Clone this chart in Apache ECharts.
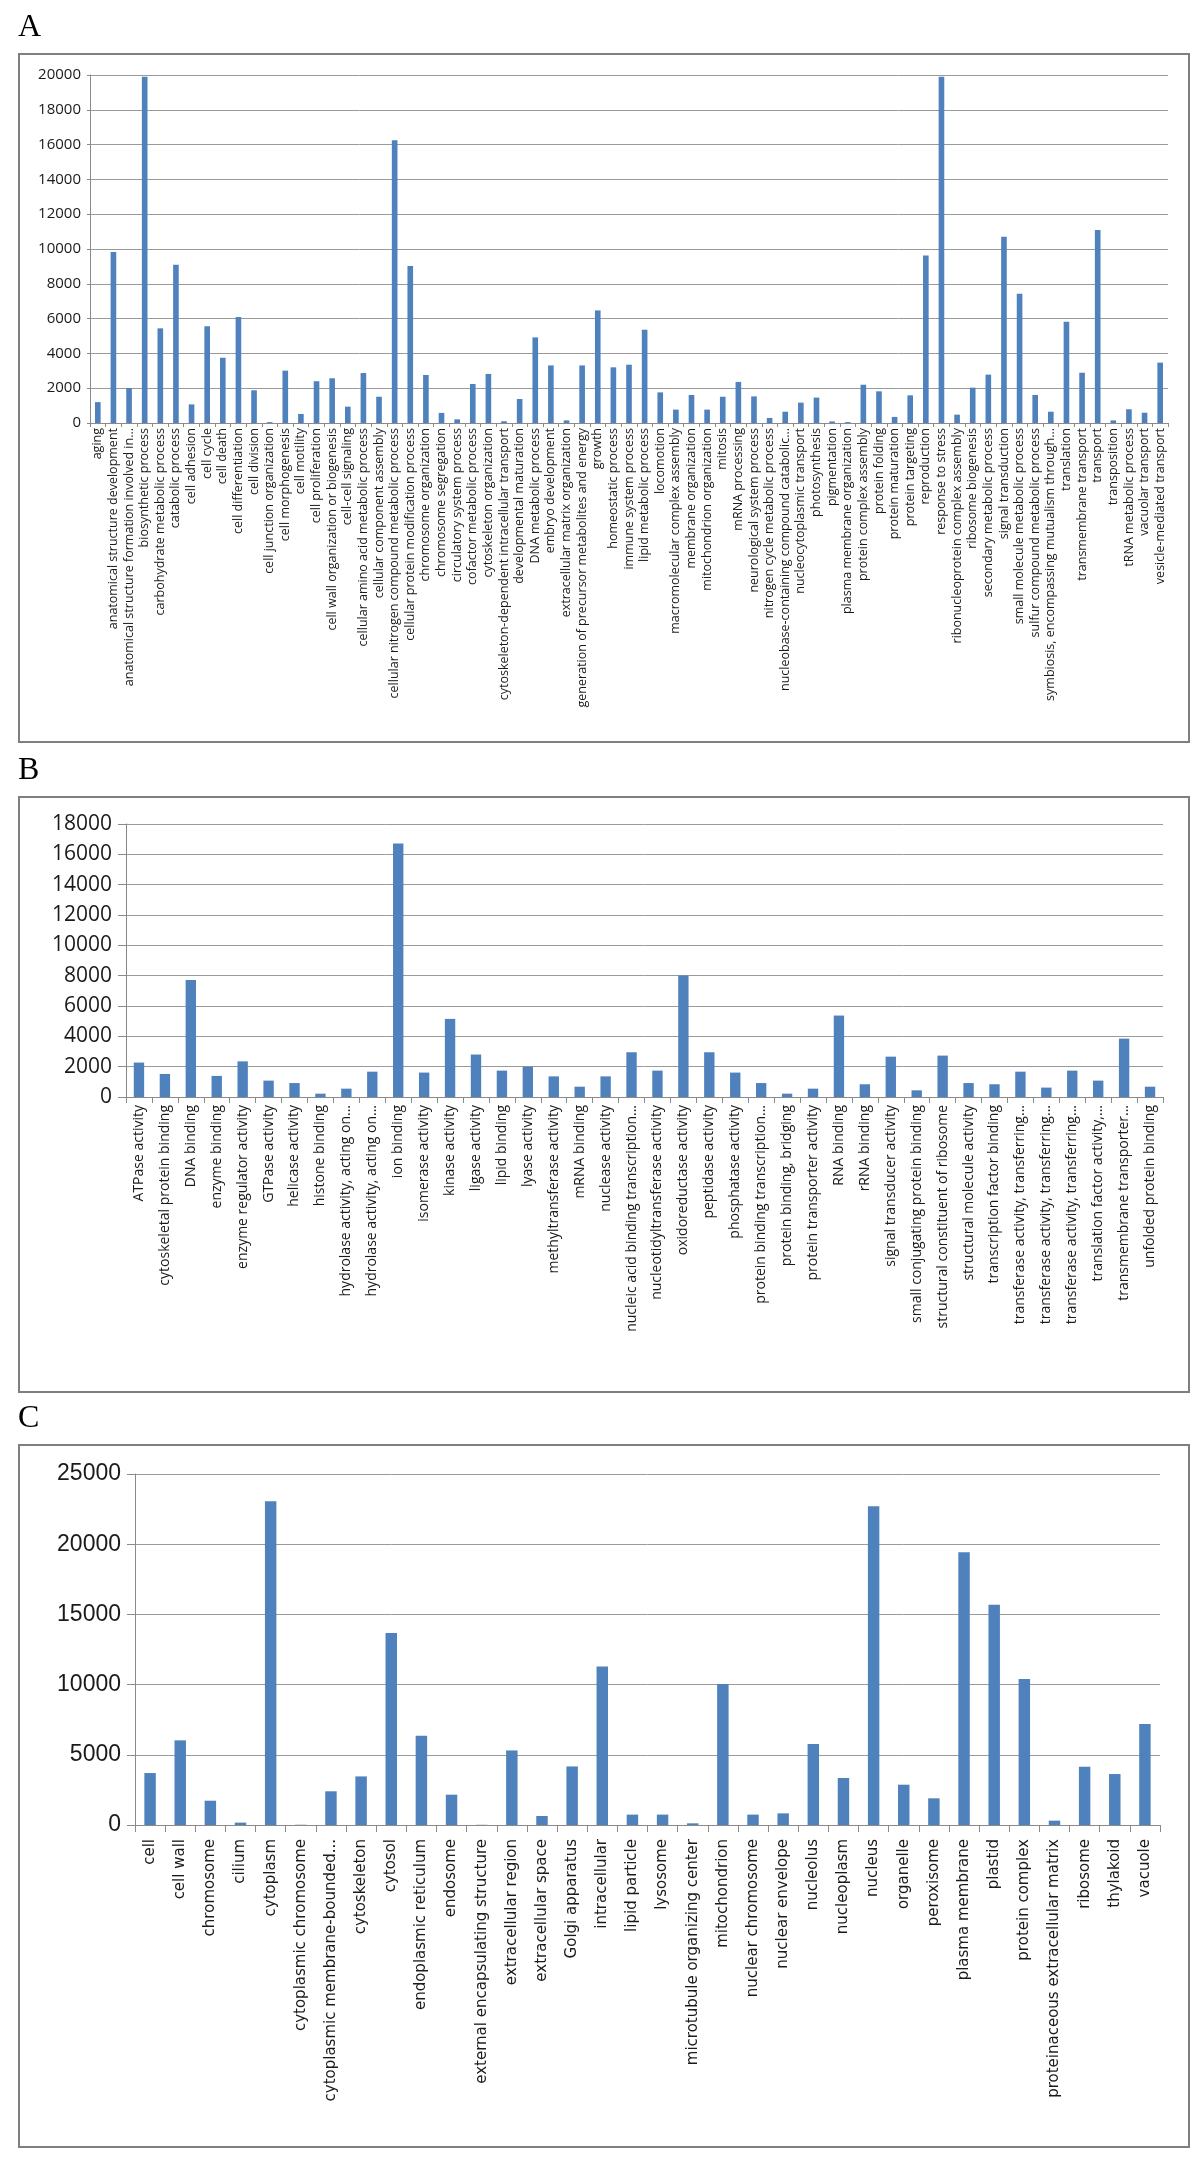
<!DOCTYPE html>
<html><head><meta charset="utf-8">
<script src="https://cdn.jsdelivr.net/npm/echarts@6/dist/echarts.min.js"></script>
<style>html,body{margin:0;padding:0;background:#fff}#c{width:1200px;height:2161px}</style>
</head><body><div id="c"></div>
<script>
const catsA = ["aging","anatomical structure development","anatomical structure formation involved in...","biosynthetic process","carbohydrate metabolic process","catabolic process","cell adhesion","cell cycle","cell death","cell differentiation","cell division","cell junction organization","cell morphogenesis","cell motility","cell proliferation","cell wall organization or biogenesis","cell-cell signaling","cellular amino acid metabolic process","cellular component assembly","cellular nitrogen compound metabolic process","cellular protein modification process","chromosome organization","chromosome segregation","circulatory system process","cofactor metabolic process","cytoskeleton organization","cytoskeleton-dependent intracellular transport","developmental maturation","DNA metabolic process","embryo development","extracellular matrix organization","generation of precursor metabolites and energy","growth","homeostatic process","immune system process","lipid metabolic process","locomotion","macromolecular complex assembly","membrane organization","mitochondrion organization","mitosis","mRNA processing","neurological system process","nitrogen cycle metabolic process","nucleobase-containing compound catabolic...","nucleocytoplasmic transport","photosynthesis","pigmentation","plasma membrane organization","protein complex assembly","protein folding","protein maturation","protein targeting","reproduction","response to stress","ribonucleoprotein complex assembly","ribosome biogenesis","secondary metabolic process","signal transduction","small molecule metabolic process","sulfur compound metabolic process","symbiosis, encompassing mutualism through...","translation","transmembrane transport","transport","transposition","tRNA metabolic process","vacuolar transport","vesicle-mediated transport"];
const valsA = [1200,9830,2010,19900,5440,9100,1070,5560,3750,6090,1880,50,3010,520,2400,2570,940,2870,1510,16250,9020,2760,580,210,2240,2820,100,1380,4920,3310,150,3310,6470,3200,3350,5360,1760,770,1610,770,1510,2360,1530,290,650,1170,1460,90,50,2200,1820,350,1590,9620,19900,480,2030,2780,10710,7430,1610,650,5820,2890,11090,150,790,590,3470];
const ticksA = {min:0, max:20000, interval:2000};

const catsB = ["ATPase activity","cytoskeletal protein binding","DNA binding","enzyme binding","enzyme regulator activity","GTPase activity","helicase activity","histone binding","hydrolase activity, acting on...","hydrolase activity, acting on...","ion binding","isomerase activity","kinase activity","ligase activity","lipid binding","lyase activity","methyltransferase activity","mRNA binding","nuclease activity","nucleic acid binding transcription...","nucleotidyltransferase activity","oxidoreductase activity","peptidase activity","phosphatase activity","protein binding transcription...","protein binding, bridging","protein transporter activity","RNA binding","rRNA binding","signal transducer activity","small conjugating protein binding","structural constituent of ribosome","structural molecule activity","transcription factor binding","transferase activity, transferring...","transferase activity, transferring...","transferase activity, transferring...","translation factor activity,...","transmembrane transporter...","unfolded protein binding"];
const valsB = [2270,1520,7720,1390,2350,1080,920,220,550,1670,16720,1610,5150,2800,1740,2000,1360,680,1360,2950,1740,8010,2950,1610,920,220,550,5370,840,2660,440,2730,920,840,1670,620,1740,1080,3850,680];
const ticksB = {min:0, max:18000, interval:2000};

const catsC = ["cell","cell wall","chromosome","cilium","cytoplasm","cytoplasmic chromosome","cytoplasmic membrane-bounded...","cytoskeleton","cytosol","endoplasmic reticulum","endosome","external encapsulating structure","extracellular region","extracellular space","Golgi apparatus","intracellular","lipid particle","lysosome","microtubule organizing center","mitochondrion","nuclear chromosome","nuclear envelope","nucleolus","nucleoplasm","nucleus","organelle","peroxisome","plasma membrane","plastid","protein complex","proteinaceous extracellular matrix","ribosome","thylakoid","vacuole"];
const valsC = [3700,6030,1730,170,23060,20,2400,3460,13670,6360,2160,15,5310,640,4170,11290,740,740,120,10040,740,830,5770,3350,22700,2870,1900,19430,15680,10390,310,4150,3630,7190];
const ticksC = {min:0, max:25000, interval:5000};

const BLUE = '#4f81bd';
const GRIDC = '#9a9a9a';
const AXC = '#8a8a8a';

function xAx(idx, cats, font, size, margin, tickLen, lh){
  return {gridIndex:idx, type:'category', data:cats,
    axisLine:{lineStyle:{color:AXC,width:1}},
    axisTick:{show:true, interval:0, length:tickLen, lineStyle:{color:AXC}},
    axisLabel:{interval:0, rotate:90, margin:margin, color:'#1a1a1a', fontFamily:font, fontSize:size,
      lineHeight:lh, overflow:'none', hideOverlap:false}};
}
function yAx(idx, t, font, size, margin, tickLen){
  return {gridIndex:idx, type:'value', min:t.min, max:t.max, interval:t.interval,
    axisLine:{show:true, lineStyle:{color:AXC,width:1}},
    axisTick:{show:true, length:tickLen, lineStyle:{color:AXC}},
    splitLine:{lineStyle:{color:GRIDC,width:1}},
    axisLabel:{margin:margin, color:'#1a1a1a', fontFamily:font, fontSize:size,
      formatter:function(v){return String(v);}}};
}
function ser(idx, vals, gap){
  return {type:'bar', xAxisIndex:idx, yAxisIndex:idx, data:vals, barCategoryGap:gap,
    itemStyle:{color:BLUE}, silent:true};
}
const chart = echarts.init(document.getElementById('c'), null, {renderer:'canvas'});
chart.setOption({
  animation:false,
  backgroundColor:'#fff',
  grid:[
    {left:90, right:32, top:75, height:348, containLabel:false, outerBoundsMode:'none'},
    {left:126, right:37, top:824, height:273, containLabel:false, outerBoundsMode:'none'},
    {left:135, right:40, top:1474, height:351, containLabel:false, outerBoundsMode:'none'}
  ],
  xAxis:[
    xAx(0, catsA, 'Open Sans', 12.5, 5, 4, 14),
    xAx(1, catsB, 'Open Sans', 14, 8, 6, 17),
    xAx(2, catsC, 'DejaVu Sans', 15, 14, 7, 18)
  ],
  yAxis:[
    yAx(0, ticksA, 'Open Sans', 15, 9, 3),
    yAx(1, ticksB, 'Open Sans', 21, 14, 8),
    yAx(2, ticksC, 'Liberation Sans', 23, 14, 8)
  ],
  series:[ser(0, valsA, '64%'), ser(1, valsB, '60%'), ser(2, valsC, '62%')],
  graphic:[
    {type:'rect', shape:{x:19, y:54, width:1170, height:688}, style:{fill:'none', stroke:'#7f7f7f', lineWidth:2}, z:-1},
    {type:'rect', shape:{x:19, y:797, width:1170, height:595}, style:{fill:'none', stroke:'#7f7f7f', lineWidth:2}, z:-1},
    {type:'rect', shape:{x:19, y:1445, width:1170, height:702}, style:{fill:'none', stroke:'#7f7f7f', lineWidth:2}, z:-1},
    {type:'text', left:18, top:12, style:{text:'A', font:'32px "Liberation Serif"', fill:'#000'}},
    {type:'text', left:18, top:755, style:{text:'B', font:'32px "Liberation Serif"', fill:'#000'}},
    {type:'text', left:18, top:1403, style:{text:'C', font:'32px "Liberation Serif"', fill:'#000'}}
  ]
});
</script></body></html>
